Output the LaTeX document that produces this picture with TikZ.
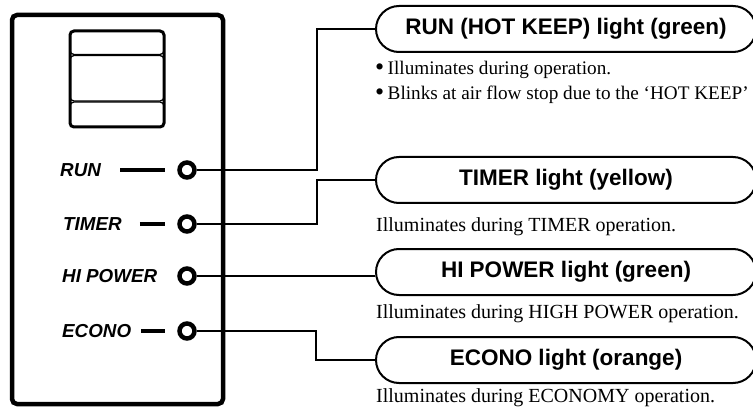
\documentclass[tikz,border=0pt]{standalone}
\usepackage{fontspec}
\setmainfont{Liberation Serif}
\setsansfont{Liberation Sans}
\usetikzlibrary{positioning, shapes.misc, calc}

\begin{document}
\begin{tikzpicture}[x=1pt, y=-1pt,
        panel/.style={draw, line width=4.5pt, rounded corners=5pt},
        lamp/.style={circle, draw, line width=4.5pt, inner sep=0pt, minimum size=15pt},
        lbl/.style={font=\sffamily\bfseries\itshape\fontsize{18.8}{21}\selectfont, inner sep=0pt, anchor=west},
        stub/.style={line width=4pt},
        wire/.style={line width=1.8pt},
        callout/.style={rounded rectangle, draw, line width=2pt, minimum width=380pt, minimum height=46pt, inner sep=0pt,
          font=\sffamily\bfseries\fontsize{22.5}{26}\selectfont},
        note/.style={font=\fontsize{20}{24}\selectfont, inner sep=0pt, anchor=base west},
        bulletnote/.style={note, font=\fontsize{19.2}{23}\selectfont}]
        \clip (0,0) rectangle (753,409);
        % front panel with display window
        \draw[panel] (12,15) rectangle (223,404);
        \draw[line width=1.3pt, rounded corners=4pt] (70,31) rectangle (164,54.5);
        \draw[line width=1.3pt, rounded corners=4pt] (70,55.5) rectangle (164,101);
        \draw[line width=1.3pt, rounded corners=4pt] (70,102) rectangle (164,127);
        \draw[line width=3pt, rounded corners=4pt] (70,31) rectangle (164,127);
        % lamps and their labels
        \node[lamp] (lrun)   at (187,170) {};
        \node[lamp] (ltimer) at (187,224) {};
        \node[lamp] (lhi)    at (187,276) {};
        \node[lamp] (leco)   at (187,331) {};
        \node[lbl] (trun)   at (60,170) {RUN};
        \node[lbl] (ttimer) at (63,224) {TIMER};
        \node[lbl] (thi)    at (62,276) {HI POWER};
        \node[lbl] (teco)   at (62,331) {ECONO};
        \draw[stub] ([xshift=19pt]trun.east) -- ([xshift=-12.5pt]lrun.west);
        \draw[stub] ([xshift=18pt]ttimer.east) -- ([xshift=-12.5pt]ltimer.west);
        \draw[stub] ([xshift=10pt]teco.east) -- ([xshift=-12.5pt]leco.west);
        % callouts
        \node[callout] (crun)   at (566,29)  {RUN (HOT KEEP) light (green)};
        \node[callout] (ctimer) at (566,180) {TIMER light (yellow)};
        \node[callout] (chi)    at (566,272) {HI POWER light (green)};
        \node[callout] (ceco)   at (566,360) {ECONO light (orange)};
        \draw[wire] (lrun.east) -- ++(120.5,0) |- (crun.west);
        \draw[wire] (ltimer.east) -- ++(120.5,0) |- (ctimer.west);
        \draw[wire] (lhi.east) -- (lhi -| chi.west);
        \draw[wire] (leco.east) -- ++(119.5,0) |- (ceco.west);
        % descriptions
        \node[bulletnote] (nrun1) at (375,75)  {\makebox[12.5pt][l]{\raisebox{-1pt}{\fontsize{26}{26}\selectfont\textbullet}}Illuminates during operation.};
        \node[bulletnote] (nrun2) at (375,100) {\makebox[12.5pt][l]{\raisebox{-1pt}{\fontsize{26}{26}\selectfont\textbullet}}Blinks at air flow stop due to the ‘HOT KEEP’};
        \node[note] (ntimer) at (376,232) {Illuminates during TIMER operation.};
        \node[note] (nhi)    at (376,318) {Illuminates during HIGH POWER operation.};
        \node[note] (neco)   at (376,402) {Illuminates during ECONOMY operation.};
      \end{tikzpicture}
\end{document}
